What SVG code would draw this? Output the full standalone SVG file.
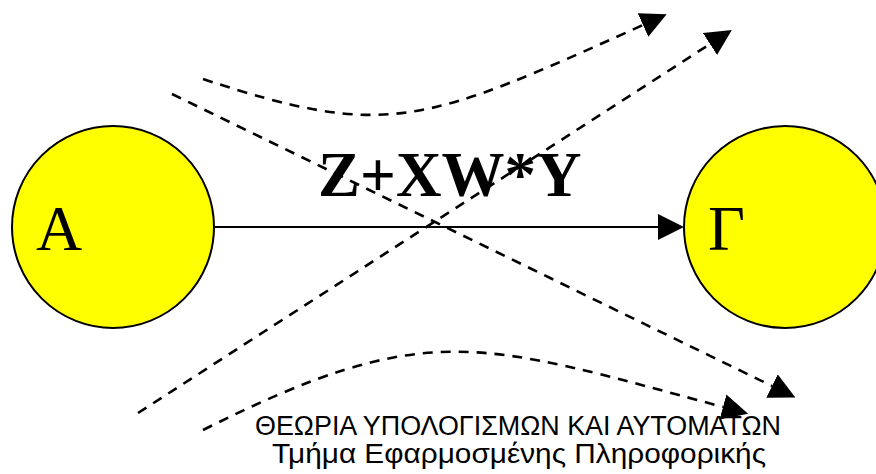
<svg xmlns="http://www.w3.org/2000/svg" width="876" height="474" viewBox="0 0 876 474">
<style>
.node{fill:#FFFF00;stroke:#000;stroke-width:2}
.lbl{font-family:"Liberation Serif","Times New Roman",serif;font-size:64px;fill:#000}
.dash{fill:none;stroke:#000;stroke-width:2.6;stroke-dasharray:10,8}
.solid{fill:none;stroke:#000;stroke-width:2.2}
.cap{font-family:"Liberation Sans",Arial,sans-serif;font-size:27px;fill:#000}
</style>
<defs>
<marker id="ah" markerUnits="userSpaceOnUse" markerWidth="26" markerHeight="26" viewBox="0 0 26 26" refX="0" refY="13" orient="auto">
<path d="M0,0 L26,13 L0,26 Z" fill="#000"/>
</marker>
</defs>
<rect width="876" height="474" fill="#fff"/>
<g id="nodeA">
<circle class="node" cx="113" cy="227" r="101"/>
<text class="lbl" x="36" y="250">Α</text>
</g>
<g id="nodeG">
<circle class="node" cx="785" cy="227" r="101"/>
<text class="lbl" x="708" y="250">Γ</text>
</g>
<g id="connectors">
<path class="solid" d="M214,227 L658,227" marker-end="url(#ah)"/>
<path class="dash" d="M203,79 C388,140 423,124 643,25" marker-end="url(#ah)"/>
<path class="dash" d="M172,94 L772,386" marker-end="url(#ah)"/>
<path class="dash" d="M138,413 L710,44" marker-end="url(#ah)"/>
<path class="dash" d="M203,430 C427,318 478,341 723,407" marker-end="url(#ah)"/>
</g>
<text x="318" y="196" font-family="'Liberation Serif','Times New Roman',serif" font-weight="bold" font-size="63">Z+XW*Y</text>
<text class="cap" x="255" y="435" textLength="526" lengthAdjust="spacingAndGlyphs">ΘΕΩΡΙΑ ΥΠΟΛΟΓΙΣΜΩΝ ΚΑΙ ΑΥΤΟΜΑΤΩΝ</text>
<text class="cap" x="272" y="463" textLength="494" lengthAdjust="spacingAndGlyphs">Τμήμα Εφαρμοσμένης Πληροφορικής</text>
</svg>
